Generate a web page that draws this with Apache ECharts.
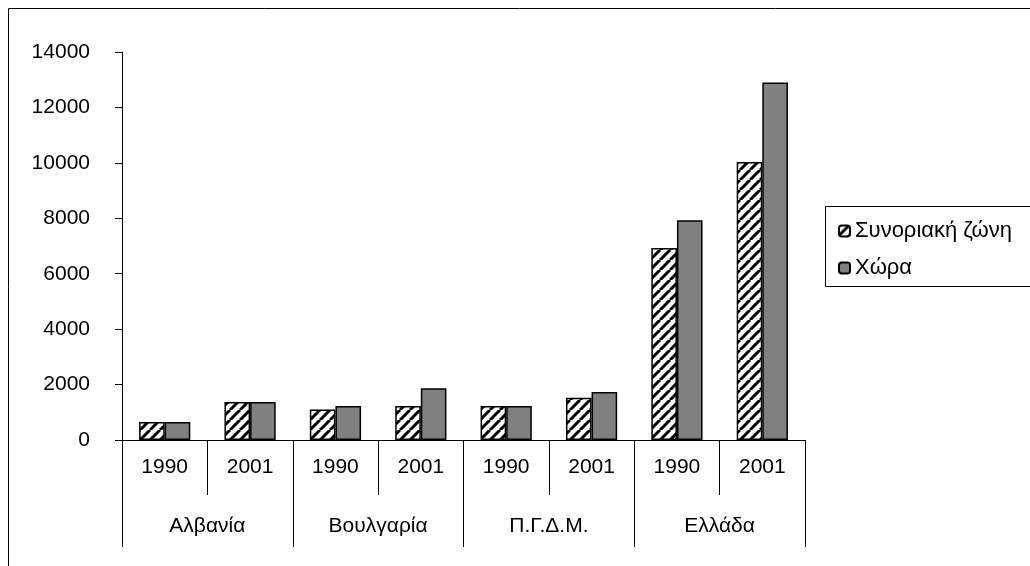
<!DOCTYPE html>
<html>
<head>
<meta charset="utf-8">
<script src="https://cdn.jsdelivr.net/npm/echarts@6/dist/echarts.min.js"></script>
<style>
html,body{margin:0;padding:0;background:#fff;}
#chart{width:1030px;height:566px;}
</style>
</head>
<body>
<div id="chart"></div>
<script>
const years = ['1990','2001','1990','2001','1990','2001','1990','2001'];
const countries = ['Αλβανία','Βουλγαρία','Π.Γ.Δ.Μ.','Ελλάδα'];
const seriesNames = ['Συνοριακή ζώνη','Χώρα'];
const borderZone = [650, 1370, 1100, 1230, 1230, 1520, 6930, 10030];
const wholeCountry = [650, 1370, 1230, 1870, 1230, 1730, 7930, 12900];

function hatch(){
  const c = document.createElement('canvas');
  const s = 10;
  c.width = s; c.height = s;
  const g = c.getContext('2d');
  g.fillStyle = '#fff'; g.fillRect(0,0,s,s);
  g.strokeStyle = '#000'; g.lineWidth = 3;
  g.beginPath();
  for (let k=-1;k<=1;k++){
    g.moveTo(k*s, s); g.lineTo(k*s + s, 0);
  }
  g.stroke();
  return c;
}

const font = 'Liberation Sans, Arial, sans-serif';
const fs = 21;
const chart = echarts.init(document.getElementById('chart'), null, {renderer:'canvas'});
chart.setOption({
  animation:false,
  graphic:[
    {type:'rect', shape:{x:8.5,y:8.5,width:1100,height:600}, style:{fill:'none',stroke:'#000',lineWidth:1}, z:-1},
    {type:'rect', shape:{x:825.5,y:206.5,width:300,height:80}, style:{fill:'none',stroke:'#000',lineWidth:1}, z:-1}
  ],
  legend:{
    orient:'vertical', left:833, top:215, itemWidth:11, itemHeight:11, itemGap:15,
    data:seriesNames,
    textStyle:{fontFamily:font, fontSize:22, color:'#000'}
  },
  grid:{left:122, right:225, top:52, bottom:126, containLabel:false},
  xAxis:[
    {type:'category', data:years, position:'bottom', boundaryGap:true,
      axisLine:{show:true, lineStyle:{color:'#000',width:1}},
      axisTick:{show:true, interval:0, alignWithLabel:false, length:55, lineStyle:{color:'#000'}},
      axisLabel:{show:true, interval:0, margin:17, fontFamily:font, fontSize:fs, color:'#000'}},
    {type:'category', data:countries, position:'bottom', boundaryGap:true,
      axisLine:{show:false},
      axisTick:{show:true, interval:0, alignWithLabel:false, length:107, lineStyle:{color:'#000'}},
      axisLabel:{show:true, interval:0, margin:76, fontFamily:font, fontSize:fs, color:'#000'}}
  ],
  yAxis:{type:'value', min:0, max:14000, interval:2000,
    axisLine:{show:true, lineStyle:{color:'#000'}},
    axisTick:{show:true, length:7, lineStyle:{color:'#000'}},
    splitLine:{show:false},
    axisLabel:{margin:32, fontFamily:font, fontSize:fs, color:'#000', formatter: v => String(v)}},
  series:[
    {name:seriesNames[0], type:'bar', data:borderZone, barGap:'0%', barCategoryGap:'40%',
      itemStyle:{color:{image:hatch(), repeat:'repeat'}, borderColor:'#000', borderWidth:1.5}},
    {name:seriesNames[1], type:'bar', data:wholeCountry, barGap:'0%', barCategoryGap:'40%',
      itemStyle:{color:'#808080', borderColor:'#000', borderWidth:1.5}}
  ]
});
</script>
</body>
</html>
